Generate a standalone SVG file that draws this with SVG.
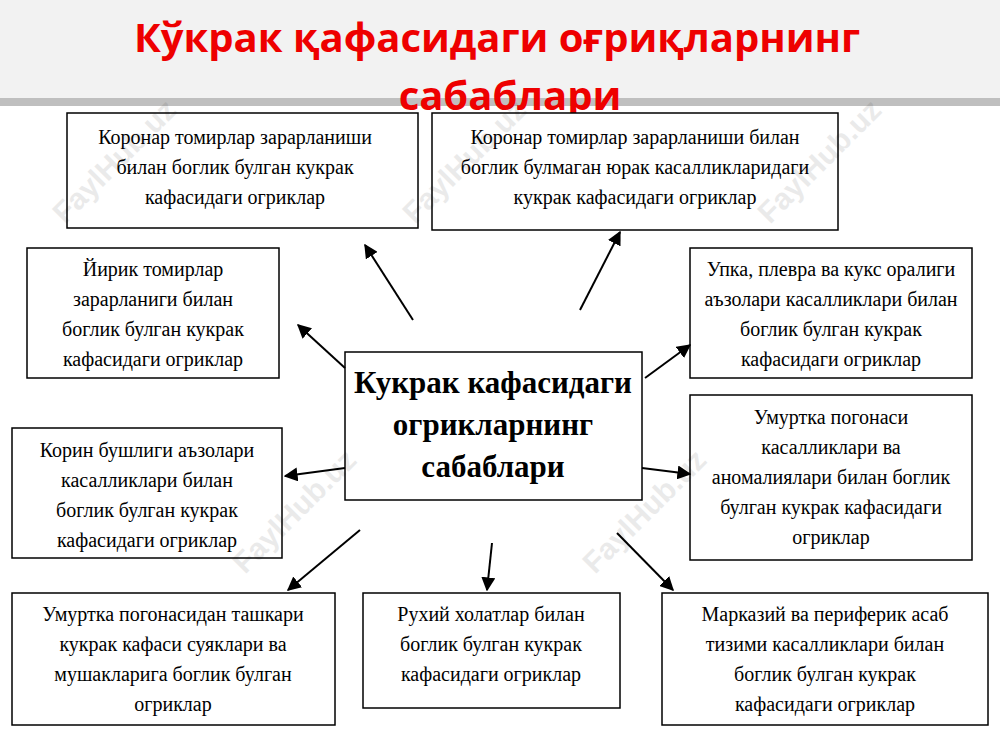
<svg xmlns="http://www.w3.org/2000/svg" width="1000" height="750" viewBox="0 0 1000 750">
<defs>
<marker id="ah" viewBox="0 0 10 10" refX="9" refY="5" markerWidth="7" markerHeight="7" orient="auto"><path d="M0,0 L10,5 L0,10 z" fill="#000"/></marker>
<style>
.b{fill:#fff;stroke:#000;stroke-width:1.5}
.t{font-family:"Liberation Serif",serif;font-size:20px;text-anchor:middle;fill:#000}
.c{font-family:"Liberation Serif",serif;font-size:31px;font-weight:bold;text-anchor:middle;fill:#000}
.w{font-family:"Liberation Sans",sans-serif;font-size:30px;font-weight:bold;fill:#000;opacity:0.08}
.l{stroke:#000;stroke-width:2;marker-end:url(#ah)}
</style>
</defs>
<rect width="1000" height="750" fill="#fff"/>
<rect x="0" y="0" width="1000" height="98" fill="#f2f2f2"/>
<rect x="0" y="98" width="1000" height="8" fill="#bfbfbf"/>
<g id="title"><text x="497" y="52" font-family="'Open Sans','Liberation Sans',sans-serif" font-size="40" font-weight="bold" fill="#ee0000" text-anchor="middle">Кўкрак қафасидаги оғриқларнинг</text>
<text x="510" y="110" font-family="'Open Sans','Liberation Sans',sans-serif" font-size="40" font-weight="bold" fill="#ee0000" text-anchor="middle">сабаблари</text></g>
<g id="n1"><rect class="b" x="67" y="113" width="351" height="115"/><text class="t" x="235" y="144">Коронар томирлар зарарланиши</text><text class="t" x="235" y="174">билан боглик булган кукрак</text><text class="t" x="235" y="204">кафасидаги огриклар</text></g>
<g id="n2"><rect class="b" x="432" y="113" width="406" height="117"/><text class="t" x="635" y="144">Коронар томирлар зарарланиши билан</text><text class="t" x="635" y="174">боглик булмаган юрак касалликларидаги</text><text class="t" x="635" y="204">кукрак кафасидаги огриклар</text></g>
<g id="n3"><rect class="b" x="27" y="248" width="252" height="130"/><text class="t" x="153" y="276">Йирик томирлар</text><text class="t" x="153" y="306">зарарланиги билан</text><text class="t" x="153" y="336">боглик булган кукрак</text><text class="t" x="153" y="366">кафасидаги огриклар</text></g>
<g id="n4"><rect class="b" x="690" y="248" width="282" height="130"/><text class="t" x="831" y="276">Упка, плевра ва кукс оралиги</text><text class="t" x="831" y="306">аъзолари касалликлари билан</text><text class="t" x="831" y="336">боглик булган кукрак</text><text class="t" x="831" y="366">кафасидаги огриклар</text></g>
<g id="n5"><rect class="b" x="345" y="352" width="297" height="148"/><text class="c" x="493" y="393">Кукрак кафасидаги</text><text class="c" x="493" y="435">огрикларнинг</text><text class="c" x="493" y="477">сабаблари</text></g>
<g id="n6"><rect class="b" x="12" y="428" width="270" height="130"/><text class="t" x="147" y="457">Корин бушлиги аъзолари</text><text class="t" x="147" y="487">касалликлари билан</text><text class="t" x="147" y="517">боглик булган кукрак</text><text class="t" x="147" y="547">кафасидаги огриклар</text></g>
<g id="n7"><rect class="b" x="690" y="395" width="282" height="165"/><text class="t" x="831" y="424">Умуртка погонаси</text><text class="t" x="831" y="454">касалликлари ва</text><text class="t" x="831" y="484">аномалиялари билан боглик</text><text class="t" x="831" y="514">булган кукрак кафасидаги</text><text class="t" x="831" y="544">огриклар</text></g>
<g id="n8"><rect class="b" x="12" y="593" width="323" height="132"/><text class="t" x="173" y="621">Умуртка погонасидан ташкари</text><text class="t" x="173" y="651">кукрак кафаси суяклари ва</text><text class="t" x="173" y="681">мушакларига боглик булган</text><text class="t" x="173" y="711">огриклар</text></g>
<g id="n9"><rect class="b" x="363" y="593" width="257" height="115"/><text class="t" x="491" y="621">Рухий холатлар билан</text><text class="t" x="491" y="651">боглик булган кукрак</text><text class="t" x="491" y="681">кафасидаги огриклар</text></g>
<g id="n10"><rect class="b" x="662" y="593" width="326" height="132"/><text class="t" x="825" y="621">Марказий ва периферик асаб</text><text class="t" x="825" y="651">тизими касалликлари билан</text><text class="t" x="825" y="681">боглик булган кукрак</text><text class="t" x="825" y="711">кафасидаги огриклар</text></g>
<g id="connectors">
<line class="l" x1="413" y1="320" x2="365" y2="245"/>
<line class="l" x1="580" y1="310" x2="620" y2="232"/>
<line class="l" x1="345" y1="368" x2="298" y2="325"/>
<line class="l" x1="645" y1="378" x2="690" y2="345"/>
<line class="l" x1="345" y1="468" x2="285" y2="476"/>
<line class="l" x1="642" y1="468" x2="690" y2="474"/>
<line class="l" x1="360" y1="530" x2="288" y2="590"/>
<line class="l" x1="492" y1="543" x2="487" y2="590"/>
<line class="l" x1="617" y1="533" x2="673" y2="590"/>
</g>
<g id="watermarks">
<text class="w" transform="translate(65,225) rotate(-45)">FaylHub.uz</text>
<text class="w" transform="translate(415,225) rotate(-45)">FaylHub.uz</text>
<text class="w" transform="translate(770,225) rotate(-45)">FaylHub.uz</text>
<text class="w" transform="translate(245,575) rotate(-45)">FaylHub.uz</text>
<text class="w" transform="translate(595,575) rotate(-45)">FaylHub.uz</text>
</g>
</svg>
